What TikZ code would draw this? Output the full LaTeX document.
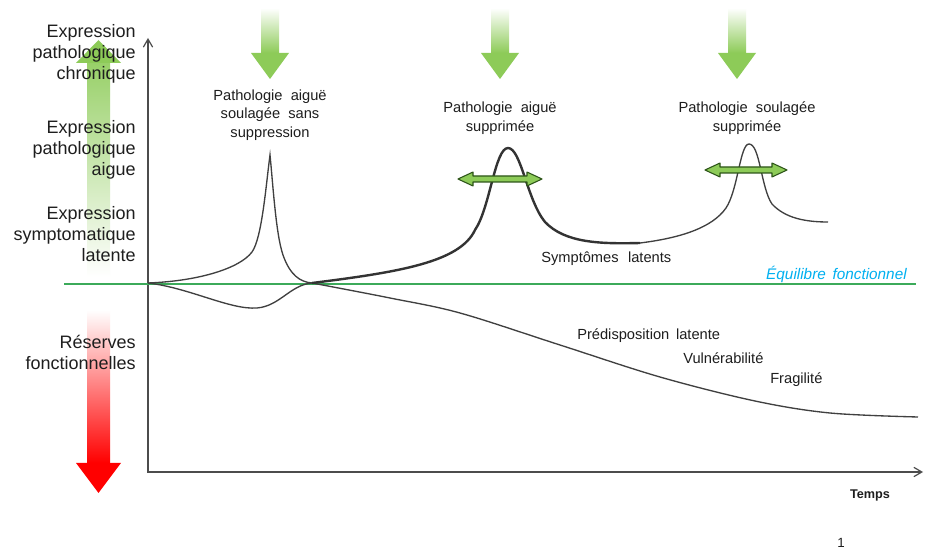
\documentclass[tikz,border=0pt]{standalone}
\usepackage{fontspec}
\setmainfont{Liberation Sans}
\usetikzlibrary{arrows.meta}
\definecolor{lgreen}{RGB}{141,203,88}
\definecolor{eqline}{RGB}{60,170,90}
\definecolor{eqtext}{HTML}{00B0F0}
\definecolor{dgreen}{RGB}{45,85,25}
\definecolor{txt}{RGB}{30,30,30}
\definecolor{arrred}{RGB}{255,0,0}
\begin{document}
\begin{tikzpicture}[x=0.75pt,y=-0.75pt,
  axis/.style={draw=black!70, line width=0.9pt, {Straight Barb[length=6pt,width=7pt]}-{Straight Barb[length=6pt,width=7pt]}},
  curve/.style={draw=black!75, line width=1pt},
  thickcurve/.style={draw=black!80, line width=1.8pt},
  sidelbl/.style={text=txt, font=\fontsize{13.5}{15.75}\selectfont, align=right, anchor=east, inner sep=0pt},
  toplbl/.style={text=txt, font=\fontsize{11}{14}\selectfont, align=center, inner sep=0pt},
  notelbl/.style={text=txt, font=\fontsize{11}{13}\selectfont, anchor=west, inner sep=0pt},
  dblarr/.style={draw=dgreen, fill=lgreen, line width=0.8pt, line join=round}]
\useasboundingbox (0,0) rectangle (926,552);
\fill[white] (0,0) rectangle (926,552);

% --- big side arrows
\shade[bottom color=white, top color=lgreen!90] (87,277) rectangle (110,63);
\fill[lgreen] (76,63) -- (98.5,40) -- (121,63) -- cycle;
\shade[top color=white, bottom color=arrred] (87,310) rectangle (110,463);
\fill[arrred] (76,463) -- (98.5,493) -- (121,463) -- cycle;

% --- top down arrows
\foreach \cx in {270,500,737}{
  \shade[top color=white, bottom color=lgreen] (\cx-9,8) rectangle (\cx+9,53);
  \fill[lgreen] (\cx-19,53) -- (\cx,79) -- (\cx+19,53) -- cycle;
}

% --- axes and equilibrium line
\coordinate (O) at (148,283);
\coordinate (C) at (148,472);
\coordinate (Ytop) at (148,38);
\coordinate (Xend) at (923,472);
\coordinate (EqL) at (64,284);
\coordinate (EqR) at (916,284);
\draw[axis] (Ytop) -- (C) -- (Xend);
\draw[eqline, line width=1pt] (EqL) -- (EqR);

% --- curves
\coordinate (M) at (312,283);
\draw[curve] (O) .. controls (200,281) and (240,268) .. (252,252)
  .. controls (262,238) and (266,185) .. (270,155)
  .. controls (273,185) and (276,235) .. (283,255)
  .. controls (290,275) and (300,282) .. (M);
\draw[curve] (O) .. controls (190,288) and (230,310) .. (257,308)
  .. controls (280,306) and (290,285) .. (M);
\draw[curve] plot[smooth, tension=0.55] coordinates {(312,283) (390,298) (460,313) (560,345) (660,377) (755,401) (830,413) (918,417)};
\coordinate (E2) at (640,243);
\draw[thickcurve] (M) .. controls (400,272) and (460,262) .. (475,230)
  .. controls (490,208) and (495,148) .. (508,148)
  .. controls (521,148) and (527,200) .. (545,222)
  .. controls (565,243) and (600,244) .. (E2);
\draw[curve] (E2) .. controls (680,238) and (712,228) .. (726,208)
  .. controls (738,190) and (740,144) .. (749,144)
  .. controls (760,144) and (761,188) .. (772,204)
  .. controls (785,218) and (805,222) .. (828,222);

% --- double arrows at peaks
\coordinate (DA2) at (500,179);
\coordinate (DA3) at (746,170);
\foreach \c/\h in {DA2/42,DA3/41}{
  \filldraw[dblarr] (\c) ++(-\h,0) -- ++(15,-7) -- ++(0,4) -- ++(2*\h-30,0) -- ++(0,-4) -- ++(15,7)
    -- ++(-15,7) -- ++(0,-4) -- ++(-2*\h+30,0) -- ++(0,4) -- cycle;
}

% --- side labels
\node[sidelbl] (l1) at (136,54) {Expression\\pathologique\\chronique};
\node[sidelbl] (l2) at (136,150) {Expression\\pathologique\\aigue};
\node[sidelbl] (l3) at (136,234) {Expression\\symptomatique\\latente};
\node[sidelbl] (l4) at (136,352) {Réserves\\fonctionnelles};

% --- top labels
\node[toplbl] (t1) at (270,115) {Pathologie\ \ aiguë\\soulagée\ \ sans\\suppression};
\node[toplbl] (t2) at (500,118) {Pathologie\ \ aiguë\\supprimée};
\node[toplbl] (t3) at (747,118) {Pathologie\ \ soulagée\\supprimée};

% --- notes
\node[notelbl] (sl) at (541,259) {Symptômes\hspace{7pt}latents};
\node[text=eqtext, font=\fontsize{11.5}{13}\selectfont\itshape, anchor=east, inner sep=0pt] (eq) at (907,274) {Équilibre\hspace{5pt}fonctionnel};
\node[notelbl] (pl) at (577,336) {Prédisposition\hspace{5pt}latente};
\node[notelbl] (vu) at (683,358) {Vulnérabilité};
\node[notelbl] (fr) at (770,380) {Fragilité};
\node[text=txt, font=\fontsize{9.5}{11}\selectfont\bfseries, inner sep=0pt] (tp) at (870,495) {Temps};
\node[text=txt, font=\fontsize{10}{12}\selectfont, inner sep=0pt] (pg) at (841,543) {1};
\end{tikzpicture}
\end{document}
